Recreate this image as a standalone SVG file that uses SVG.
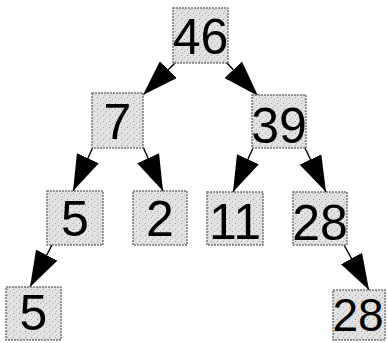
<svg xmlns="http://www.w3.org/2000/svg" width="388" height="343" viewBox="0 0 388 343">
<defs>
<marker id="ah" markerUnits="userSpaceOnUse" markerWidth="37" markerHeight="24" refX="36" refY="12" orient="auto">
<path d="M0,0 L36,12 L0,24 z" fill="#000"/>
</marker>
<pattern id="speck" width="6" height="6" patternUnits="userSpaceOnUse">
<rect width="6" height="6" fill="#e2e2e2"/>
<rect x="1" y="1" width="1" height="1" fill="#999"/>
<rect x="4" y="3" width="1" height="1" fill="#aaa"/>
<rect x="2" y="5" width="1" height="1" fill="#bbb"/>
</pattern>
</defs>
<style>
.box{fill:url(#speck);stroke:#777;stroke-width:1.5;stroke-dasharray:2,1}
.lbl{font-family:"Liberation Sans",Arial,sans-serif;font-size:50px;fill:#000;text-anchor:middle}
.edge{stroke:#000;stroke-width:1.4;fill:none;marker-end:url(#ah)}
</style>
<g id="connectors">
<line class="edge" x1="176" y1="62" x2="143" y2="95"/>
<line class="edge" x1="226" y1="62" x2="258" y2="96"/>
<line class="edge" x1="93" y1="147" x2="73" y2="191"/>
<line class="edge" x1="143" y1="147" x2="163" y2="191"/>
<line class="edge" x1="253" y1="148" x2="233" y2="192"/>
<line class="edge" x1="305" y1="148" x2="326" y2="192"/>
<line class="edge" x1="52" y1="245" x2="30" y2="287"/>
<line class="edge" x1="344" y1="245" x2="369" y2="290"/>
</g>
<g id="n46"><rect class="box" x="173" y="8" width="55" height="55"/><text class="lbl" x="200.5" y="54">46</text></g>
<g id="n7"><rect class="box" x="92" y="93" width="51" height="55"/><text class="lbl" x="117.5" y="139">7</text></g>
<g id="n39"><rect class="box" x="252" y="95" width="54" height="53"/><text class="lbl" x="279" y="143">39</text></g>
<g id="n5a"><rect class="box" x="47" y="191" width="56" height="54"/><text class="lbl" x="75" y="236">5</text></g>
<g id="n2"><rect class="box" x="133" y="191" width="54" height="54"/><text class="lbl" x="160" y="236">2</text></g>
<g id="n11"><rect class="box" x="207" y="192" width="56" height="53"/><text class="lbl" x="235" y="239">11</text></g>
<g id="n28a"><rect class="box" x="293" y="192" width="54" height="53"/><text class="lbl" x="320" y="240">28</text></g>
<g id="n5b"><rect class="box" x="6" y="287" width="55" height="53"/><text class="lbl" x="33.5" y="330">5</text></g>
<g id="n28b"><rect class="box" x="333" y="290" width="52" height="50"/><text class="lbl" x="358" y="331" style="font-size:46px">28</text></g>
</svg>
